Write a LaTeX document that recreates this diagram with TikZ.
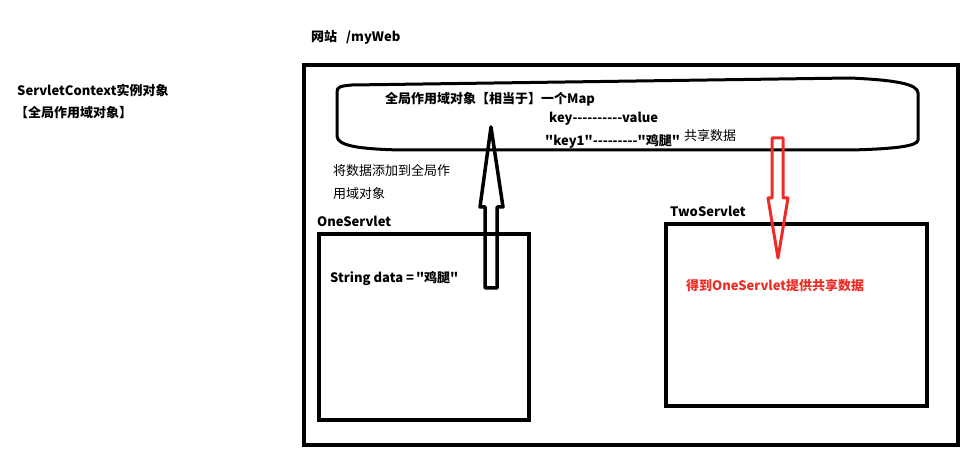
\documentclass[tikz,border=0pt]{standalone}
\usepackage{fontspec}
\newfontfamily\cjk{Noto Sans CJK SC}
\tikzset{
  txt/.style={anchor=west, inner sep=0pt, font=\cjk\fontsize{13}{15}\selectfont\bfseries},
  txtr/.style={anchor=west, inner sep=0pt, font=\cjk\fontsize{13}{15}\selectfont},
  box/.style={draw, line width=4pt},
  hollowarrow/.style={draw, line width=3.5pt, line join=round},
}
\definecolor{arrowred}{RGB}{236,45,38}
\begin{document}
\begin{tikzpicture}[x=1pt,y=-1pt]
\useasboundingbox (0,0) rectangle (978,470);
% texts
\node[txt] (site) at (311,37) {网站\hspace{9pt}/myWeb};
\node[txt] (sc) at (17,90) {ServletContext实例对象};
\node[txt] (scb) at (15,113) {【全局作用域对象】};
% outer box
\node[box, minimum width=654pt, minimum height=380pt, anchor=north west, inner sep=0pt] (web) at (302,63) {};
% global scope shape
\draw[line width=3pt] (337,92) .. controls (337,87) and (340,86) .. (352,85) -- (850,78)
  .. controls (895,80) and (918,84) .. (918,93) -- (918,140)
  .. controls (918,146) and (895,149) .. (850,150) -- (400,150)
  .. controls (360,149) and (337,146) .. (337,136) -- cycle;
\node[txt] (map) at (385,99) {全局作用域对象【相当于】一个Map};
\node[txt] (kv) at (549,119) {key----------value};
\node[txt] (kv1) at (545,141) {"key1"---------"鸡腿"};
\node[txtr] (share) at (684,136) {共享数据};
% OneServlet
\node[txtr] (add1) at (333,171) {将数据添加到全局作};
\node[txtr] (add2) at (333,194) {用域对象};
\node[txt] (onel) at (317,221) {OneServlet};
\node[box, minimum width=210pt, minimum height=186pt, anchor=north west, inner sep=0pt] (one) at (317,232) {};
\node[txt] (data) at (330,279) {String data =\hspace{2pt}"鸡腿"};
% TwoServlet
\node[txt] (twol) at (670,211) {TwoServlet};
\node[box, minimum width=261pt, minimum height=182pt, anchor=north west, inner sep=0pt] (two) at (664,222) {};
\node[txt, text=arrowred] (get) at (686,286) {得到OneServlet提供共享数据};
% black hollow arrow up
\draw[hollowarrow] (485,288) -- (485,207) -- (480,207) -- (491,127) -- (503,207) -- (497,207) -- (497,288) -- cycle;
% red hollow arrow down
\draw[hollowarrow, draw=arrowred, line width=3pt] (772,138) -- (783,138) -- (783,198) -- (788,198) -- (778,258) -- (768,198) -- (772,198) -- cycle;
\end{tikzpicture}
\end{document}
